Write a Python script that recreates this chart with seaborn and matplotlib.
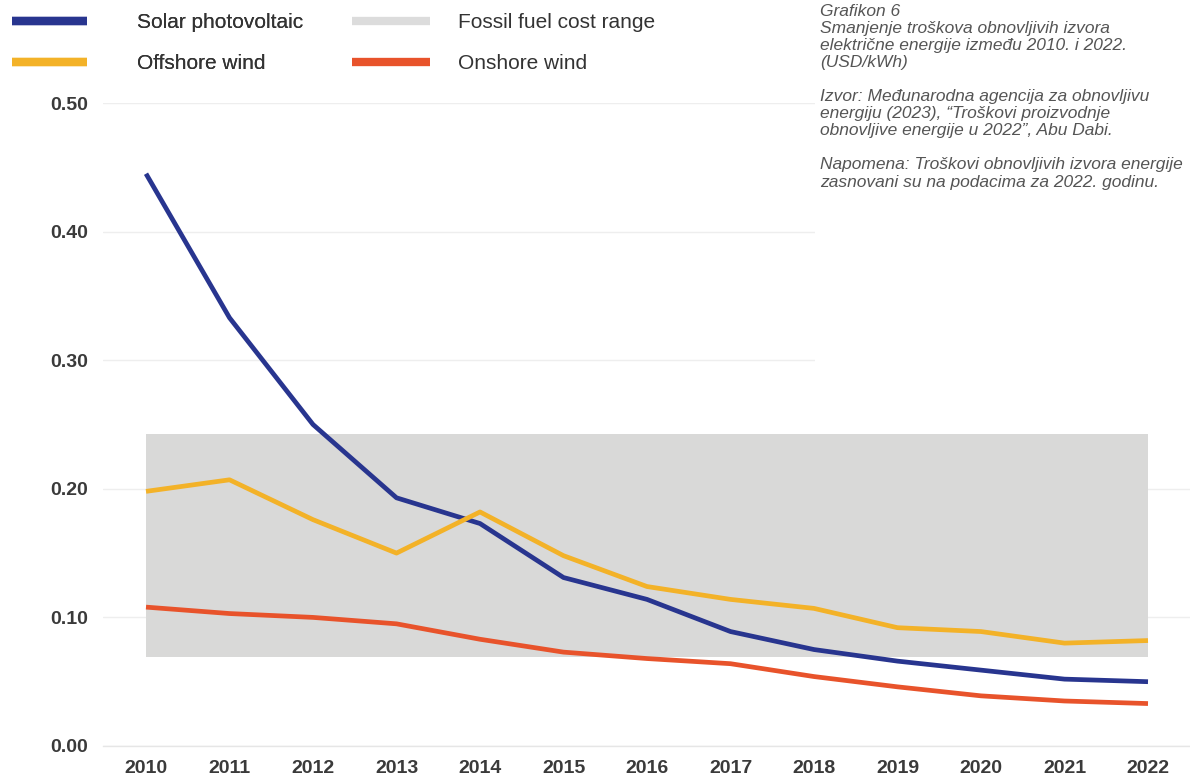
import matplotlib
matplotlib.use("Agg")
import matplotlib.pyplot as plt
from matplotlib.lines import Line2D
from matplotlib.patches import Rectangle
import numpy as np
import pandas as pd
import seaborn as sns

# Levelised cost of electricity, USD/kWh
years = list(range(2010, 2023))
solar_pv = [0.445, 0.333, 0.250, 0.193, 0.173, 0.131, 0.114, 0.089, 0.075, 0.066, 0.059, 0.052, 0.050]
offshore_wind = [0.198, 0.207, 0.176, 0.150, 0.182, 0.148, 0.124, 0.114, 0.107, 0.092, 0.089, 0.080, 0.082]
onshore_wind = [0.108, 0.103, 0.100, 0.095, 0.083, 0.073, 0.068, 0.064, 0.054, 0.046, 0.039, 0.035, 0.033]
fossil_low = 0.069
fossil_high = 0.243

series_names = ["Solar photovoltaic", "Offshore wind", "Onshore wind"]
band_name = "Fossil fuel cost range"
y_ticks = [0.0, 0.1, 0.2, 0.3, 0.4, 0.5]

note_lines = [
    "Grafikon 6",
    "Smanjenje troškova obnovljivih izvora",
    "električne energije između 2010. i 2022.",
    "(USD/kWh)",
    "",
    "Izvor: Međunarodna agencija za obnovljivu",
    "energiju (2023), “Troškovi proizvodnje",
    "obnovljive energije u 2022”, Abu Dabi.",
    "",
    "Napomena: Troškovi obnovljivih izvora energije",
    "zasnovani su na podacima za 2022. godinu.",
]

colors = {
    "Solar photovoltaic": "#28358f",
    "Offshore wind": "#f3b228",
    "Onshore wind": "#e8532b",
}
band_color = "#d9d9d8"

df = pd.DataFrame({
    "year": years * 3,
    "value": solar_pv + offshore_wind + onshore_wind,
    "series": [series_names[0]] * len(years)
    + [series_names[1]] * len(years)
    + [series_names[2]] * len(years),
})

sns.set_theme(style="whitegrid")
plt.rcParams["font.family"] = ["Liberation Sans", "DejaVu Sans"]

W, H = 1190, 778
fig = plt.figure(figsize=(W / 100, H / 100), dpi=100)
ax = fig.add_axes([103 / W, 1 - 746 / H, (W - 103) / W, (746 - 103) / H])

ax.fill_between(years, fossil_low, fossil_high, color=band_color, lw=0, zorder=1)
sns.lineplot(data=df, x="year", y="value", hue="series", palette=colors,
             linewidth=3.4, ax=ax, legend=False, zorder=3)
for ln in ax.lines:
    ln.set_solid_capstyle("butt")
    ln.set_solid_joinstyle("round")

ax.set_xlim(2009.485, 2022.503)
ax.set_ylim(0, 0.5)
ax.set_xticks(years)
ax.set_xticklabels([str(y) for y in years])
ax.set_yticks(y_ticks)
ax.set_yticklabels([f"{v:.2f}" for v in y_ticks])
ax.set_xlabel("")
ax.set_ylabel("")
ax.set_facecolor("white")
ax.grid(axis="y", color="#eeeeee", linewidth=1.0, zorder=0)
ax.grid(axis="x", visible=False)
for side in ["top", "right", "left"]:
    ax.spines[side].set_visible(False)
ax.spines["bottom"].set_color("#e6e6e6")
ax.spines["bottom"].set_linewidth(1.0)
ax.tick_params(axis="both", length=0, labelsize=14, labelcolor="#3a3a3a")
ax.tick_params(axis="x", pad=10)
ax.tick_params(axis="y", pad=11)
for lab in ax.get_xticklabels() + ax.get_yticklabels():
    lab.set_fontweight("bold")

# Legend across the top: two columns with their own spacing
def legend_column(handles, labels, x_px, handlelength, textpad):
    leg = fig.legend(handles, labels, loc="upper left",
                     bbox_to_anchor=(x_px / W, 1 - 13 / H), frameon=False,
                     fontsize=15, handlelength=handlelength, handletextpad=textpad,
                     labelspacing=1.05, borderpad=0, borderaxespad=0,
                     labelcolor="#333333")
    return leg

lw_leg = 6.0
col1 = legend_column(
    [Line2D([], [], color=colors["Solar photovoltaic"], lw=lw_leg, solid_capstyle="butt"),
     Line2D([], [], color=colors["Offshore wind"], lw=lw_leg, solid_capstyle="butt")],
    ["Solar photovoltaic", "Offshore wind"], 12, 3.6, 2.4)
fig.add_artist(col1)
legend_column(
    [Line2D([], [], color="#dcdcdc", lw=lw_leg, solid_capstyle="butt"),
     Line2D([], [], color=colors["Onshore wind"], lw=lw_leg, solid_capstyle="butt")],
    [band_name, "Onshore wind"], 352, 3.75, 1.35)

# Notes block in the upper right, on a white ground
fig.patches.append(Rectangle((815 / W, 1 - 362 / H), (W - 815) / W, 362 / H,
                             transform=fig.transFigure, facecolor="white",
                             edgecolor="none", zorder=2))
y0 = 11
for i, line in enumerate(note_lines):
    if line:
        fig.text(820 / W, 1 - (y0 + i * 17.1) / H, line, ha="left", va="center",
                 fontsize=12.5, fontstyle="italic", color="#555555", zorder=3)

fig.savefig("out.png", dpi=100, facecolor="white")
